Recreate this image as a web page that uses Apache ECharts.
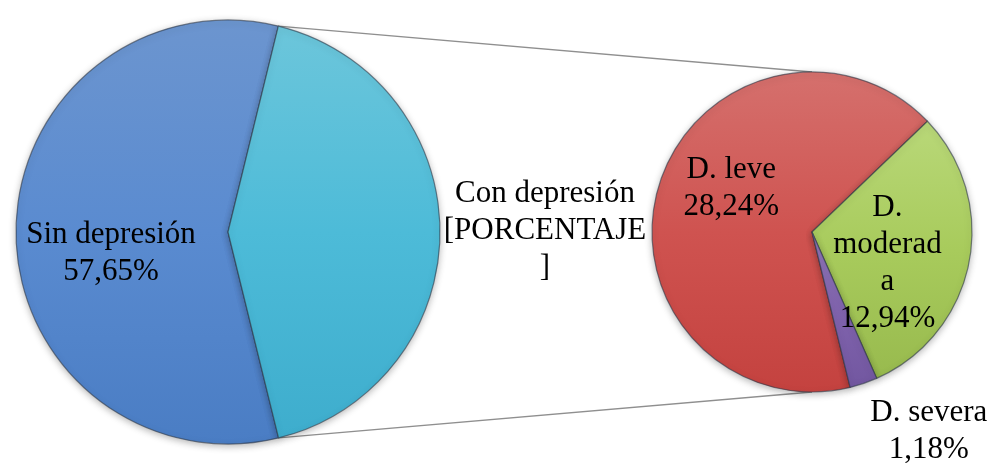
<!DOCTYPE html>
<html>
<head>
<meta charset="utf-8">
<script src="https://cdn.jsdelivr.net/npm/echarts@6/dist/echarts.min.js"></script>
<style>
  html, body { margin: 0; padding: 0; background: #ffffff; }
  #chart { width: 992px; height: 463px; }
</style>
</head>
<body>
<div id="chart"></div>
<script>
// Main pie: people with / without depression (%)
const mainCategories = ['Sin depresión', 'Con depresión'];
const mainValues = [57.65, 42.35];
// Secondary pie: breakdown of "Con depresión" by severity (%)
const subCategories = ['D. leve', 'D. moderada', 'D. severa'];
const subValues = [28.24, 12.94, 1.18];

function pct(v) {
  return v.toFixed(2).replace('.', ',') + '%';
}

function grad(top, mid, bottom) {
  return {
    type: 'linear', x: 0, y: 0, x2: 0, y2: 1,
    colorStops: [
      { offset: 0, color: top },
      { offset: 0.5, color: mid },
      { offset: 1, color: bottom }
    ]
  };
}

const mainFills = [
  grad('#6c95cf', '#5a8bd0', '#4a7dc4'),
  grad('#6cc6db', '#4dbbd8', '#3eadcd')
];
const subFills = [
  grad('#d5706d', '#cf5350', '#c4423f'),
  grad('#b9d879', '#a8cb5c', '#98ba4e'),
  grad('#9077b8', '#8063ad', '#7257a0')
];

// Label texts built from names and values
const mainLabels = [
  mainCategories[0] + '\n' + pct(mainValues[0]),
  mainCategories[1] + '\n[PORCENTAJE\n]'
];
const subLabels = [
  subCategories[0] + '\n' + pct(subValues[0]),
  'D.\nmoderad\na\n' + pct(subValues[1]),
  subCategories[2] + '\n' + pct(subValues[2])
];

// Label nudges (pixels) away from the default inside position
const mainLabelShift = [[-8, 21], [208, -1]];
const subLabelShift = [[-1, -20], [-6, 15], [90, 121]];

const labelStyle = {
  show: true,
  position: 'inside',
  color: '#000000',
  fontFamily: 'Liberation Serif',
  fontSize: 31,
  lineHeight: 37,
  align: 'center',
  textBorderWidth: 0
};

const sliceStyle = {
  borderColor: 'rgba(45,55,70,0.6)',
  borderWidth: 1.2,
  shadowBlur: 7,
  shadowColor: 'rgba(0,0,0,0.28)',
  shadowOffsetY: 2
};

const option = {
  animation: false,
  backgroundColor: '#ffffff',
  series: [
    {
      type: 'pie',
      center: [228, 232],
      radius: 212,
      startAngle: 283.8,
      clockwise: true,
      label: Object.assign({}, labelStyle, {
        formatter: p => mainLabels[p.dataIndex]
      }),
      labelLine: { show: false },
      labelLayout: p => ({ dx: mainLabelShift[p.dataIndex][0], dy: mainLabelShift[p.dataIndex][1], hideOverlap: false }),
      emphasis: { disabled: true },
      data: mainCategories.map((name, i) => ({
        name: name,
        value: mainValues[i],
        itemStyle: Object.assign({}, sliceStyle, { color: mainFills[i] })
      }))
    },
    {
      type: 'pie',
      center: [812, 232],
      radius: 160,
      startAngle: 283.8,
      clockwise: true,
      label: Object.assign({}, labelStyle, {
        formatter: p => subLabels[p.dataIndex]
      }),
      labelLine: { show: false },
      labelLayout: p => ({ dx: subLabelShift[p.dataIndex][0], dy: subLabelShift[p.dataIndex][1], hideOverlap: false }),
      emphasis: { disabled: true },
      data: subCategories.map((name, i) => ({
        name: name,
        value: subValues[i],
        itemStyle: Object.assign({}, sliceStyle, { color: subFills[i] })
      }))
    }
  ]
};

const chart = echarts.init(document.getElementById('chart'), null, { renderer: 'canvas' });
chart.setOption(option);

// Connector lines from the edges of the "Con depresión" slice to the secondary pie,
// taken from the pie layouts and added straight to the renderer
const mainData = chart.getModel().getSeriesByIndex(0).getData();
const subData = chart.getModel().getSeriesByIndex(1).getData();
const slice = mainData.getItemLayout(1);
const sub = subData.getItemLayout(0);
const ends = [slice.startAngle, slice.endAngle].map(a => [
  slice.cx + slice.r * Math.cos(a),
  slice.cy + slice.r * Math.sin(a)
]).sort((a, b) => a[1] - b[1]);
const subTop = [sub.cx, sub.cy - sub.r];
const subBottom = [sub.cx, sub.cy + sub.r];

const zr = chart.getZr();
[[ends[0], subTop], [ends[1], subBottom]].forEach(([a, b]) => {
  zr.add(new echarts.graphic.Line({
    z: -1,
    shape: { x1: a[0], y1: a[1], x2: b[0], y2: b[1] },
    style: { stroke: '#8f8f8f', lineWidth: 1.3 }
  }));
});
</script>
</body>
</html>
